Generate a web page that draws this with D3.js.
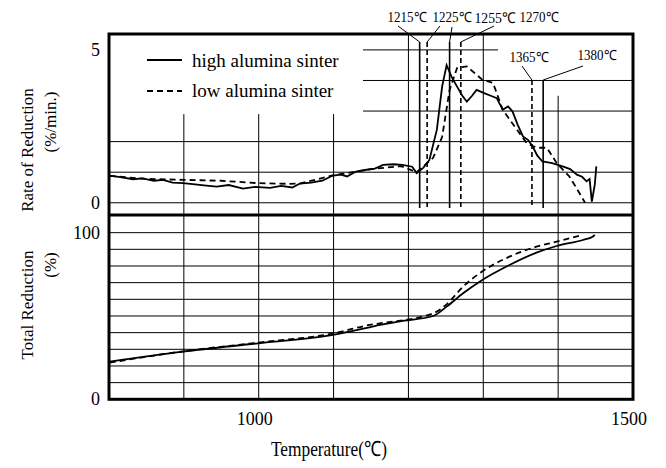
<!DOCTYPE html>
<html><head><meta charset="utf-8">
<script src="https://cdn.jsdelivr.net/npm/d3@7"></script>
<style>body{margin:0;background:#fff}svg{display:block}text{font-family:"Liberation Serif","Times New Roman",serif;fill:#000}</style>
</head><body><svg id="c" width="666" height="468"></svg>
<script>
// temperature (°C)
const highRateT = [801,815,832,845,860,872,885,899,915,930,944,960,979,995,1015,1030,1045,1055,1070,1085,1099,1110,1118,1130,1144,1155,1162,1166,1180,1192,1205,1211,1220,1228,1238,1245,1251,1258,1265,1272,1278,1285,1291,1302,1310,1318,1326,1333,1339,1346,1353,1360,1366,1372,1379,1392,1406,1416,1425,1432,1438,1442,1445,1449,1451];
const highRate  = [0.89,0.84,0.77,0.80,0.72,0.75,0.66,0.64,0.60,0.56,0.53,0.58,0.46,0.52,0.49,0.55,0.50,0.63,0.66,0.72,0.89,0.92,0.86,1.02,1.08,1.12,1.19,1.24,1.26,1.24,1.18,0.97,1.15,1.4,2.39,3.8,4.5,4.1,3.8,3.5,3.31,3.5,3.69,3.58,3.5,3.42,3.04,3.15,2.99,2.55,2.17,2.05,1.84,1.55,1.35,1.3,1.19,1.1,0.92,0.85,0.70,0.78,0.04,0.6,1.19];
const lowRateT  = [801,850,899,950,1000,1040,1055,1100,1150,1190,1211,1233,1245,1255,1265,1278,1299,1313,1326,1345,1358,1371,1385,1398,1415,1426,1436];
const lowRate   = [0.88,0.78,0.75,0.72,0.64,0.62,0.63,0.90,1.10,1.20,1.00,1.47,2.15,3.69,4.41,4.46,4.02,3.92,3.04,2.39,1.95,1.80,1.80,1.30,0.86,0.42,0.00];
const highTotT  = [801,899,999,1099,1148,1162,1192,1233,1251,1273,1295,1335,1371,1398,1433,1446,1449];
const highTot   = [22.6,28.6,33.6,38.6,43.2,44.6,47,50,55.6,63.6,70.6,80.6,88,92,95.6,97.6,98.6];
const lowTotT   = [801,899,999,1099,1148,1162,1233,1251,1273,1295,1335,1371,1398,1433];
const lowTot    = [22,28.8,34,39.5,44.6,45.6,51.6,57,67.6,75.6,85.6,91.6,94.6,98.6];
const markTemps = [1215,1225,1255,1270,1365,1380];
const markDash  = [false,true,false,true,true,false];
const markLabels= ["1215℃","1225℃","1255℃","1270℃","1365℃","1380℃"];
const xTicks = [1000,1500];
const rateTicks = [0,5];
const totTicks = [0,100];
const seriesNames = ["high alumina sinter","low alumina sinter"];

const svg = d3.select("#c");
const x = d3.scaleLinear([800,1500],[109,633]);
const yT = d3.scaleLinear([-0.4,5.52],[215,34]);
const yB = d3.scaleLinear([0,110.6],[399.3,215]);
const g = svg.append("g");

// grid top
const gridW = 1;
[2,1,0].forEach(v=>g.append("line").attr("x1",109).attr("x2",633).attr("y1",yT(v)).attr("y2",yT(v)).attr("stroke","#000").attr("stroke-width",gridW));
[3,4].forEach(v=>g.append("line").attr("x1",363).attr("x2",633).attr("y1",yT(v)).attr("y2",yT(v)).attr("stroke","#000").attr("stroke-width",gridW));
g.append("line").attr("x1",363).attr("x2",498).attr("y1",yT(5)).attr("y2",yT(5)).attr("stroke","#000").attr("stroke-width",gridW);
[900,1000,1100].forEach(t=>g.append("line").attr("x1",x(t)).attr("x2",x(t)).attr("y1",yT(2.9)).attr("y2",215).attr("stroke","#000").attr("stroke-width",gridW));
[1200,1300].forEach(t=>g.append("line").attr("x1",x(t)).attr("x2",x(t)).attr("y1",34).attr("y2",215).attr("stroke","#000").attr("stroke-width",gridW));
g.append("line").attr("x1",x(1400)).attr("x2",x(1400)).attr("y1",yT(3.5)).attr("y2",215).attr("stroke","#000").attr("stroke-width",gridW);
// grid bottom
d3.range(10,110,10).forEach(v=>g.append("line").attr("x1",109).attr("x2",633).attr("y1",yB(v)).attr("y2",yB(v)).attr("stroke","#000").attr("stroke-width",gridW));
[900,1000,1100,1200,1300,1400].forEach(t=>g.append("line").attr("x1",x(t)).attr("x2",x(t)).attr("y1",215).attr("y2",yB(0)).attr("stroke","#000").attr("stroke-width",gridW));

// markers
markTemps.forEach((t,i)=>{
  const top = i<4 ? 42 : 80;
  g.append("line").attr("x1",x(t)).attr("x2",x(t)).attr("y1",top).attr("y2",208)
   .attr("stroke","#000").attr("stroke-width",1.6).attr("stroke-dasharray",markDash[i]?"5,3":null);
});
const labPos = [[407,22],[452,22],[495,23],[539,22],[529,62],[597,60]];
const leadEnd = [[398,26],[440,26],[452,27],[494,26],[522,66],[583,66]];
markLabels.forEach((s,i)=>{
  g.append("text").attr("x",labPos[i][0]).attr("y",labPos[i][1]).attr("text-anchor","middle")
   .attr("font-size",i==2?15:14).attr("textLength",i==2?41:39).attr("lengthAdjust","spacingAndGlyphs").text(s);
  const top = i<4 ? 42 : 80;
  g.append("line").attr("x1",leadEnd[i][0]).attr("y1",leadEnd[i][1]).attr("x2",x(markTemps[i])).attr("y2",top).attr("stroke","#000").attr("stroke-width",1);
});

// frame
g.append("rect").attr("x",109).attr("y",34).attr("width",524).attr("height",yB(0)-34).attr("fill","none").attr("stroke","#000").attr("stroke-width",3);
g.append("line").attr("x1",109).attr("x2",633).attr("y1",215).attr("y2",215).attr("stroke","#000").attr("stroke-width",3);

// series
const lineT = d3.line().x(d=>x(d[0])).y(d=>yT(d[1]));
const lineB = d3.line().x(d=>x(d[0])).y(d=>yB(d[1])).curve(d3.curveMonotoneX);
g.append("path").attr("d",lineT(d3.zip(lowRateT,lowRate))).attr("fill","none").attr("stroke","#000").attr("stroke-width",1.8).attr("stroke-dasharray","6,4");
g.append("path").attr("d",lineT(d3.zip(highRateT,highRate))).attr("fill","none").attr("stroke","#000").attr("stroke-width",1.8);
g.append("path").attr("d",lineB(d3.zip(lowTotT,lowTot))).attr("fill","none").attr("stroke","#000").attr("stroke-width",1.8).attr("stroke-dasharray","6,4");
g.append("path").attr("d",lineB(d3.zip(highTotT,highTot))).attr("fill","none").attr("stroke","#000").attr("stroke-width",1.8);

// legend
g.append("rect").attr("x",140).attr("y",40).attr("width",220).attr("height",66).attr("fill","#fff");
g.append("line").attr("x1",147).attr("x2",182).attr("y1",60).attr("y2",60).attr("stroke","#000").attr("stroke-width",1.8);
g.append("line").attr("x1",147).attr("x2",182).attr("y1",91).attr("y2",91).attr("stroke","#000").attr("stroke-width",1.8).attr("stroke-dasharray","6,4");
g.append("text").attr("x",192).attr("y",67).attr("font-size",19).text(seriesNames[0]);
g.append("text").attr("x",192).attr("y",97).attr("font-size",19).text(seriesNames[1]);

// tick labels
xTicks.forEach(t=>g.append("text").attr("x",x(t)-4).attr("y",425).attr("text-anchor","middle").attr("font-size",18).text(t));
rateTicks.forEach(v=>g.append("text").attr("x",100).attr("y",yT(v)+6).attr("text-anchor","end").attr("font-size",18).text(v));
totTicks.forEach(v=>g.append("text").attr("x",100).attr("y",yB(v)+6).attr("text-anchor","end").attr("font-size",18).text(v));

// axis titles
g.append("text").attr("x",329).attr("y",456).attr("text-anchor","middle").attr("font-size",21)
 .attr("textLength",116).attr("lengthAdjust","spacingAndGlyphs").text("Temperature(℃)");
const vt=(s,cx,cy)=>g.append("text").attr("transform",`translate(${cx},${cy}) rotate(-90)`).attr("text-anchor","middle").attr("font-size",17).text(s);
vt("Rate of Reduction",33,150); vt("(%/min.)",56,122);
vt("Total Reduction",33,305); vt("(%)",56,265);
</script></body></html>
